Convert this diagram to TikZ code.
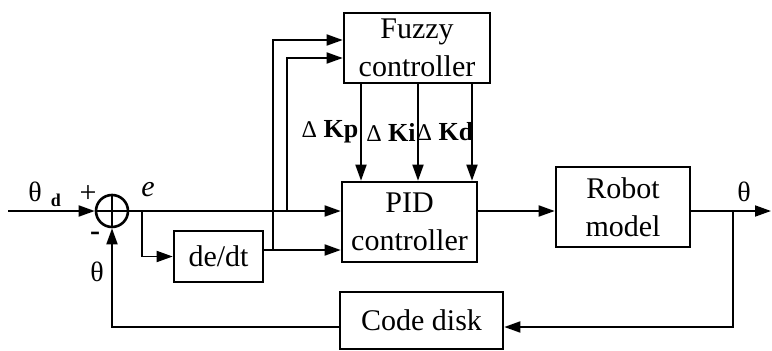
\documentclass[tikz,border=0pt]{standalone}
\usepackage{fontspec}
\setmainfont{Liberation Serif}
\usetikzlibrary{arrows.meta}
\begin{document}
\begin{tikzpicture}[x=1pt,y=-1pt,
  block/.style={draw, line width=2.6pt, align=center, inner sep=0pt,
    font=\fontsize{30}{38}\selectfont},
  wire/.style={line width=1.8pt},
  arr/.style={wire, -{Triangle[length=16pt,width=11pt]}},
  lbl/.style={inner sep=0pt, font=\fontsize{28}{30}\selectfont},
  gain/.style={inner sep=0pt, font=\fontsize{26}{27}\selectfont}]
\useasboundingbox (0,0) rectangle (772,351);

% blocks
\node[block, minimum width=146, minimum height=70] (fuzzy) at (417,48) {Fuzzy\\controller};
\node[block, minimum width=135, minimum height=80] (pid) at (409.5,222) {PID\\controller};
\node[block, minimum width=134, minimum height=80] (robot) at (623,207) {Robot\\model};
\node[block, minimum width=89, minimum height=51] (ddt) at (218.5,256.5) {de/dt};
\node[block, minimum width=163, minimum height=57] (cd) at (421.5,320.5) {Code disk};

% summing junction
\node[draw, circle, line width=2.6pt, minimum size=32, inner sep=0pt] (sum) at (112,211) {};
\draw[line width=2.6pt] (sum.north) -- (sum.south) (sum.west) -- (sum.east);

% helper points
\coordinate (in) at (8,211);
\coordinate (out) at (771,211);
\coordinate (b1) at (142,211);
\coordinate (b2) at (287,211);
\coordinate (b3) at (733,211);
\coordinate (dout) at (263,250);
\coordinate (j1) at (273,250);
\coordinate (lv1) at (0,40);
\coordinate (lv2) at (0,58);
\coordinate (fb) at (0,327);
\coordinate (kp) at (361,0);
\coordinate (ki) at (418,0);
\coordinate (kd) at (472,0);

% forward path
\draw[arr] (in) -- (sum.west);
\draw[arr] (sum.east) -- (pid.west |- sum.east);
\draw[arr] (b1) |- (ddt.west);
\draw[arr] (dout) -- (pid.west |- dout);
\draw[arr] (j1) |- (fuzzy.west |- lv1);
\draw[arr] (b2) |- (fuzzy.west |- lv2);
\draw[arr] (fuzzy.south -| kp) -- (pid.north -| kp);
\draw[arr] (fuzzy.south -| ki) -- (pid.north -| ki);
\draw[arr] (fuzzy.south -| kd) -- (pid.north -| kd);
\draw[arr] (pid.east |- out) -- (robot.west |- out);
\draw[arr] (robot.east |- out) -- (out);

% feedback path
\draw[arr] (b3) |- (cd.east |- fb);
\draw[arr] (cd.west |- fb) -| (sum.south);

% labels
\node[lbl] (thd) at (35,192) {θ};
\node[inner sep=0pt, font=\fontsize{18}{18}\selectfont\bfseries] (thdsub) at (56,200) {d};
\node[inner sep=0pt, font=\fontsize{30}{30}\selectfont] (plus) at (88,194) {+};
\node[inner sep=0pt, font=\fontsize{30}{30}\selectfont\bfseries] (minus) at (95,236) {-};
\node[lbl] (thfb) at (97,272) {θ};
\node[inner sep=0pt, font=\fontsize{30}{30}\selectfont\itshape] (elbl) at (148,190) {e};
\node[lbl] (thout) at (744,192) {θ};
\node[gain] (gkp) at (330,132) {{\fontsize{24}{24}\selectfont Δ} \textbf{Kp}};
\node[gain] (gki) at (391,132) {{\fontsize{24}{24}\selectfont Δ} \textbf{Ki}};
\node[gain] (gkd) at (445,132) {{\fontsize{24}{24}\selectfont Δ} \textbf{Kd}};
\end{tikzpicture}
\end{document}
